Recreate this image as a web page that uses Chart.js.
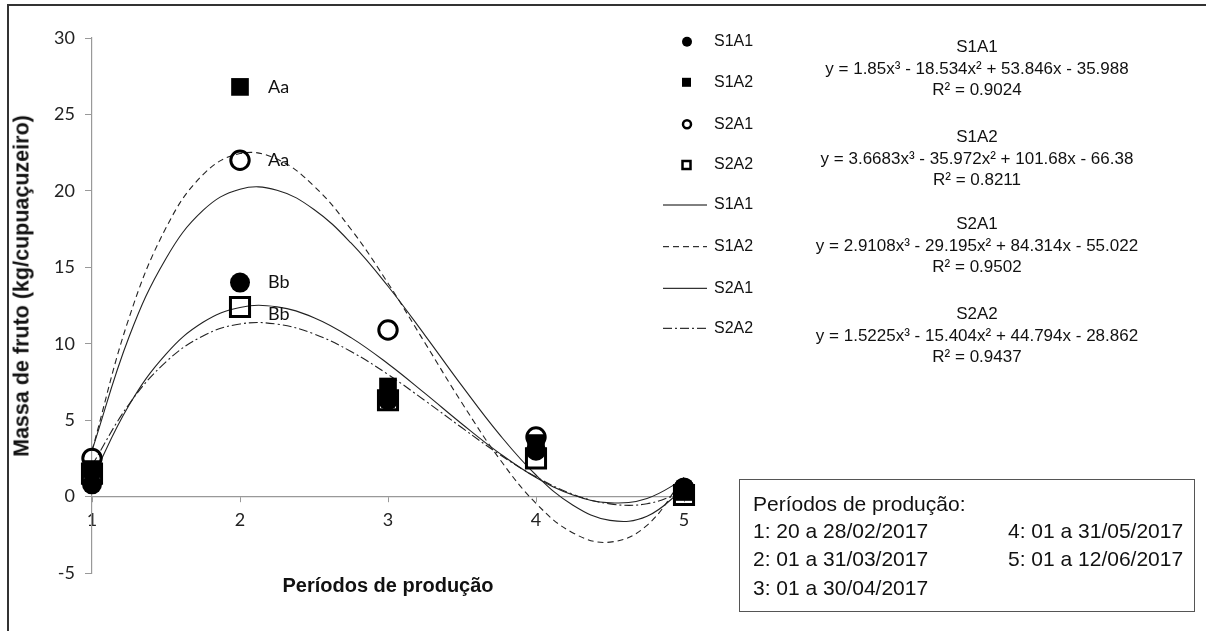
<!DOCTYPE html>
<html>
<head>
<meta charset="utf-8">
<script src="https://cdn.jsdelivr.net/npm/chart.js@4.4.0/dist/chart.umd.min.js"></script>
<style>
  body { margin: 0; background: #fff; }
  #wrap { position: relative; width: 1206px; height: 631px; overflow: hidden; font-family: "Liberation Sans", Arial, sans-serif; color: #111; }
  #frame { position: absolute; left: 7px; top: 4px; width: 1300px; height: 700px; border: 2px solid #333; }
  #chartCanvas { position: absolute; left: 0; top: 0; }
  .ytitle { position: absolute; left: 22px; top: 286px; transform: translate(-50%, -50%) rotate(-90deg); font-weight: bold; font-size: 21.5px; white-space: nowrap; }
  .xtitle { position: absolute; left: 388px; top: 585px; transform: translate(-50%, -50%); font-weight: bold; font-size: 20px; white-space: nowrap; }
  .eq { position: absolute; left: 777px; width: 400px; text-align: center; font-size: 17px; line-height: 21.6px; }
  #box { position: absolute; left: 739px; top: 479px; width: 456px; height: 133px; box-sizing: border-box; border: 1px solid #555; font-size: 21px; }
  #box div { position: absolute; white-space: nowrap; line-height: 20px; }
</style>
</head>
<body>
<div id="wrap">
  <div id="frame"></div>
  <canvas id="chartCanvas" width="1206" height="631"></canvas>
  <div class="ytitle">Massa de fruto (kg/cupuaçuzeiro)</div>
  <div class="xtitle">Períodos de produção</div>
  <div id="eqs"></div>
  <div id="box"></div>
</div>
<script>
// Períodos (eixo x)
const periods = [1, 2, 3, 4, 5];

// Massa de fruto observada
const s1a1 = [0.8, 14.0, 6.3, 3.0, 0.6];
const s1a2 = [1.8, 26.8, 7.2, 3.5, 0.3];
const s2a1 = [2.5, 22.0, 10.9, 3.9, 0.5];
const s2a2 = [1.5, 12.4, 6.3, 2.5, 0.1];

// Letras de significância no período 2
const letters = { S1A1: 'Bb', S1A2: 'Aa', S2A1: 'Aa', S2A2: 'Bb' };

// Linhas de tendência (lidas ao longo das curvas)
const trendX = [1, 1.25, 1.5, 1.75, 2, 2.25, 2.5, 2.75, 3, 3.25, 3.5, 3.75, 4, 4.25, 4.5, 4.75, 5];
const trendS1A1 = [1.17, 5.97, 9.32, 11.40, 12.37, 12.41, 11.70, 10.40, 8.69, 6.75, 4.75, 2.86, 1.25, 0.10, -0.41, -0.12, 1.14];
const trendS1A2 = [3.00, 11.68, 17.58, 21.06, 22.44, 22.08, 20.31, 17.49, 13.96, 10.05, 6.12, 2.51, -0.44, -2.38, -2.98, -1.88, 1.26];
const trendS2A1 = [3.01, 10.44, 15.58, 18.72, 20.11, 20.04, 18.78, 16.59, 13.76, 10.55, 7.24, 4.10, 1.41, -0.57, -1.56, -1.29, 0.52];
const trendS2A2 = [2.05, 6.04, 8.81, 10.51, 11.29, 11.28, 10.64, 9.49, 7.99, 6.28, 4.50, 2.78, 1.29, 0.15, -0.48, -0.47, 0.32];

// Equações exibidas
const eqNames = ['S1A1', 'S1A2', 'S2A1', 'S2A2'];
const eqTexts = [
  'y = 1.85x³ - 18.534x² + 53.846x - 35.988',
  'y = 3.6683x³ - 35.972x² + 101.68x - 66.38',
  'y = 2.9108x³ - 29.195x² + 84.314x - 55.022',
  'y = 1.5225x³ - 15.404x² + 44.794x - 28.862'
];
const eqR2 = ['R² = 0.9024', 'R² = 0.8211', 'R² = 0.9502', 'R² = 0.9437'];

// Legenda dos períodos
const periodTitle = 'Períodos de produção:';
const periodLabels = ['1: 20 a 28/02/2017', '2: 01 a 31/03/2017', '3: 01 a 30/04/2017', '4: 01 a 31/05/2017', '5: 01 a 12/06/2017'];

const pts = arr => arr.map((v, i) => ({ x: periods[i], y: v }));
const trend = arr => arr.map((v, i) => ({ x: trendX[i], y: v }));

// Equações no lado direito
const eqTops = [36, 126, 213, 303];
const eqHost = document.getElementById('eqs');
eqNames.forEach((n, i) => {
  const d = document.createElement('div');
  d.className = 'eq';
  d.style.top = eqTops[i] + 'px';
  d.innerHTML = n + '<br>' + eqTexts[i] + '<br>' + eqR2[i];
  eqHost.appendChild(d);
});

// Caixa dos períodos
const box = document.getElementById('box');
const boxPos = [[13, 14], [13, 41], [13, 69], [13, 98], [268, 41], [268, 69]];
[periodTitle].concat(periodLabels).forEach((t, i) => {
  const d = document.createElement('div');
  d.textContent = t;
  d.style.left = boxPos[i][0] + 'px';
  d.style.top = boxPos[i][1] + 'px';
  box.appendChild(d);
});

// Legenda desenhada à direita
const legendPlugin = {
  id: 'sideLegend',
  afterDraw(c) {
    const ctx = c.ctx;
    const rows = [41.7, 82.3, 124.3, 165, 205, 246.7, 288.3, 328.3];
    const items = c.data.datasets;
    ctx.save();
    ctx.font = '16px "Liberation Sans", Arial, sans-serif';
    ctx.fillStyle = '#111';
    ctx.textBaseline = 'middle';
    items.forEach((ds, i) => {
      const y = rows[i];
      ctx.fillText(ds.label, 714, y);
      ctx.strokeStyle = '#000';
      ctx.fillStyle = '#000';
      if (ds.showLine) {
        ctx.lineWidth = 1;
        ctx.setLineDash(ds.borderDash || []);
        ctx.beginPath();
        ctx.moveTo(663, y);
        ctx.lineTo(707, y);
        ctx.stroke();
        ctx.setLineDash([]);
      } else {
        const open = ds.backgroundColor === 'transparent';
        ctx.lineWidth = 2.5;
        ctx.beginPath();
        if (ds.pointStyle === 'circle') {
          ctx.arc(687, y, open ? 4 : 5, 0, Math.PI * 2);
        } else {
          open ? ctx.rect(682.5, y - 4, 8, 8) : ctx.rect(682, y - 4.5, 9, 9);
        }
        open ? ctx.stroke() : ctx.fill();
      }
      ctx.fillStyle = '#111';
    });
    ctx.restore();
  }
};

// Letras Aa / Bb junto aos pontos
const letterPlugin = {
  id: 'letters',
  afterDatasetsDraw(c) {
    const ctx = c.ctx;
    ctx.save();
    ctx.font = '18px Lato, "Open Sans", sans-serif';
    ctx.fillStyle = '#111';
    ctx.textBaseline = 'middle';
    c.data.datasets.forEach((ds, i) => {
      if (ds.showLine || !letters[ds.label]) return;
      const el = c.getDatasetMeta(i).data[1];
      const dy = ds.label === 'S2A2' ? 7 : 0;
      ctx.fillText(letters[ds.label], el.x + 28, el.y + dy);
    });
    ctx.restore();
  }
};

const lineDs = (label, data, dash) => ({
  label, data: trend(data), showLine: true, borderColor: '#222', borderWidth: 1.1,
  borderDash: dash, pointRadius: 0, tension: 0.4, order: 2
});

const ctx = document.getElementById('chartCanvas').getContext('2d');
const chart = new Chart(ctx, {
  type: 'scatter',
  data: {
    datasets: [
      { label: 'S1A1', data: pts(s1a1), pointStyle: 'circle', pointRadius: 10, backgroundColor: '#000', borderColor: '#000', borderWidth: 0, order: 1, clip: false },
      { label: 'S1A2', data: pts(s1a2), pointStyle: 'rect', pointRadius: 12.5, backgroundColor: '#000', borderColor: '#000', borderWidth: 0, order: 1, clip: false },
      { label: 'S2A1', data: pts(s2a1), pointStyle: 'circle', pointRadius: 9.2, backgroundColor: 'transparent', borderColor: '#000', borderWidth: 3, order: 1, clip: false },
      { label: 'S2A2', data: pts(s2a2), pointStyle: 'rect', pointRadius: 13.5, backgroundColor: 'transparent', borderColor: '#000', borderWidth: 3, order: 1, clip: false },
      lineDs('S1A1', trendS1A1, []),
      lineDs('S1A2', trendS1A2, [6, 4]),
      lineDs('S2A1', trendS2A1, []),
      lineDs('S2A2', trendS2A2, [9, 3, 2, 3])
    ]
  },
  options: {
    responsive: false,
    animation: false,
    layout: { padding: { left: 0, right: 522, top: 38, bottom: 58 } },
    plugins: { legend: { display: false }, tooltip: { enabled: false } },
    scales: {
      x: {
        type: 'linear', min: 1, max: 5,
        position: { y: 0 },
        ticks: { stepSize: 1, color: '#222', padding: 8, font: { family: 'Lato, "Open Sans", sans-serif', size: 18 } },
        grid: { drawOnChartArea: false, drawTicks: true, tickLength: 5, color: '#999' },
        border: { color: '#999', width: 1.2 }
      },
      y: {
        min: -5, max: 30,
        afterFit(scale) { scale.width = 92; },
        ticks: { stepSize: 5, color: '#222', padding: 10, font: { family: 'Lato, "Open Sans", sans-serif', size: 18 } },
        grid: { drawOnChartArea: false, drawTicks: true, tickLength: 7, color: '#999' },
        border: { color: '#999', width: 1.2 }
      }
    }
  },
  plugins: [legendPlugin, letterPlugin]
});
</script>
</body>
</html>
